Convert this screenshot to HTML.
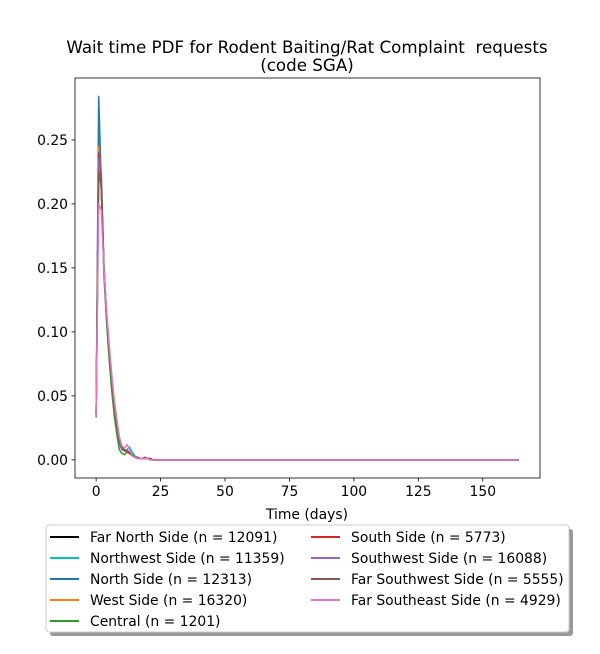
<!DOCTYPE html>
<html><head><meta charset="utf-8"><style>
body{margin:0;background:#fff;font-family:"DejaVu Sans","Liberation Sans",sans-serif}
text{white-space:pre}
</style></head><body>
<svg id="c" width="600" height="650" xmlns="http://www.w3.org/2000/svg" font-family="DejaVu Sans, Liberation Sans, sans-serif"></svg>
<script>
const names=["Far North Side (n = 12091)","Northwest Side (n = 11359)","North Side (n = 12313)","West Side (n = 16320)","Central (n = 1201)","South Side (n = 5773)","Southwest Side (n = 16088)","Far Southwest Side (n = 5555)","Far Southeast Side (n = 4929)"];
const colors=["#000000","#00bfbf","#1f77b4","#ff7f0e","#2ca02c","#d62728","#9467bd","#8c564b","#e377c2"];
const s0=[0.036,0.250,0.215,0.150,0.115,0.088,0.063,0.043,0.028,0.015,0.009,0.007,0.007,0.006,0.004,0.002,0.002,0.001,0.001,0.002,0.001,0.001,0];
const s1=[0.036,0.255,0.210,0.148,0.112,0.085,0.060,0.041,0.026,0.014,0.009,0.008,0.008,0.010,0.006,0.003,0.002,0.001,0.001,0.002,0.001,0.001,0];
const s2=[0.036,0.284,0.215,0.145,0.110,0.082,0.058,0.040,0.025,0.013,0.008,0.007,0.007,0.006,0.004,0.002,0.002,0.001,0.001,0.002,0.001,0.001,0];
const s3=[0.036,0.245,0.215,0.150,0.115,0.087,0.062,0.043,0.028,0.015,0.009,0.007,0.007,0.006,0.004,0.002,0.002,0.001,0.001,0.002,0.001,0.001,0];
const s4=[0.036,0.230,0.225,0.155,0.110,0.080,0.055,0.035,0.020,0.008,0.005,0.004,0.006,0.005,0.003,0.002,0.001,0.001,0.001,0.001,0.001,0,0];
const s5=[0.036,0.240,0.215,0.150,0.115,0.088,0.064,0.044,0.028,0.015,0.009,0.008,0.006,0.005,0.004,0.002,0.002,0.001,0.001,0.002,0.001,0.001,0];
const s6=[0.033,0.235,0.210,0.150,0.115,0.088,0.064,0.044,0.028,0.015,0.009,0.007,0.007,0.006,0.004,0.002,0.002,0.001,0.001,0.002,0.001,0.001,0];
const s7=[0.036,0.225,0.215,0.152,0.116,0.089,0.064,0.045,0.029,0.016,0.010,0.007,0.007,0.006,0.004,0.002,0.002,0.001,0.001,0.001,0.001,0.001,0];
const s8=[0.036,0.200,0.195,0.150,0.118,0.092,0.068,0.048,0.032,0.018,0.011,0.009,0.012,0.008,0.003,0.002,0.001,0.001,0.001,0.001,0.001,0,0];
const series=[s0,s1,s2,s3,s4,s5,s6,s7,s8];
const maxDay=164;
const xTicks=[0,25,50,75,100,125,150];
const yTicks=[0,0.05,0.10,0.15,0.20,0.25];
const X0=75,X1=540,Y0=478,Y1=78,xmin=-8.2,xmax=172.2,ymin=-0.0142,ymax=0.2984;
const sx=v=>X0+(v-xmin)/(xmax-xmin)*(X1-X0);
const sy=v=>Y0-(v-ymin)/(ymax-ymin)*(Y0-Y1);
const svg=document.getElementById('c');const NS="http://www.w3.org/2000/svg";
function mk(t,a,p){const e=document.createElementNS(NS,t);for(const k in a)e.setAttribute(k,a[k]);(p||svg).appendChild(e);return e;}
let e;
series.forEach((s,i)=>{let pts=[];for(let d=0;d<=maxDay;d++){const v=d<s.length?s[d]:0;pts.push(sx(d).toFixed(2)+","+sy(v).toFixed(2));}
e=mk('polyline',{points:pts.join(' '),fill:'none',stroke:colors[i],'stroke-width':1.5,'stroke-linejoin':'round'});

});
e=mk('rect',{x:X0,y:Y1,width:X1-X0,height:Y0-Y1,fill:'none',stroke:'#000','stroke-width':0.8});


xTicks.forEach(t=>{mk('line',{x1:sx(t),x2:sx(t),y1:Y0,y2:Y0+3.5,stroke:'#000','stroke-width':0.8});
e=mk('text',{x:sx(t),y:Y0+18,'text-anchor':'middle','font-size':13.9});e.textContent=t;

});
yTicks.forEach(t=>{mk('line',{x1:X0-3.5,x2:X0,y1:sy(t),y2:sy(t),stroke:'#000','stroke-width':0.8});
e=mk('text',{x:X0-7,y:sy(t)+5,'text-anchor':'end','font-size':13.9});e.textContent=t.toFixed(2);

});
e=mk('text',{x:307,y:519,'text-anchor':'middle','font-size':13.9});e.textContent="Time (days)";


e=mk('text',{x:307,y:53,'text-anchor':'middle','font-size':16.7});e.textContent="Wait time PDF for Rodent Baiting/Rat Complaint  requests";


e=mk('text',{x:307,y:71,'text-anchor':'middle','font-size':16.7});e.textContent="(code SGA)";


mk('rect',{x:50,y:529,width:523,height:107,fill:'#999',rx:3});
e=mk('rect',{x:46,y:525,width:523,height:107,fill:'#fff',stroke:'#ccc',rx:3});


names.forEach((n,i)=>{const col=i<5?0:1,row=i<5?i:i-5;const lx=col?311:50,ly=537+row*21;
mk('line',{x1:lx,x2:lx+29,y1:ly,y2:ly,stroke:colors[i],'stroke-width':2});
e=mk('text',{x:lx+40,y:ly+5,'font-size':13.9});e.textContent=n;

});
</script></body></html>
